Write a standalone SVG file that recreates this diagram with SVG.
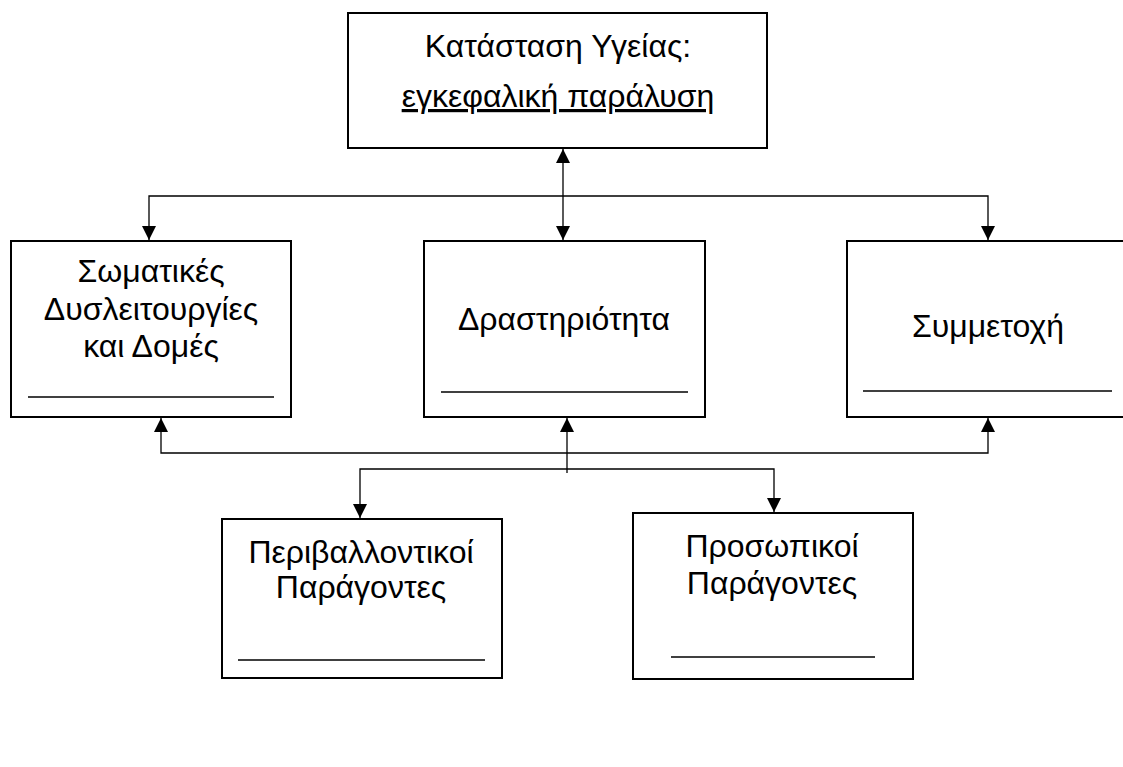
<svg xmlns="http://www.w3.org/2000/svg" width="1123" height="767" viewBox="0 0 1123 767">
<style>
.box{fill:#fff;stroke:#000;stroke-width:2}
.ul{stroke:#000;stroke-width:1.5}
.c{fill:none;stroke:#000;stroke-width:1.3}
text{font-family:"Liberation Sans",Arial,sans-serif;font-size:32px;fill:#000;text-anchor:middle}
</style>
<defs>
<marker id="ah" markerUnits="userSpaceOnUse" markerWidth="14" markerHeight="16" refX="14" refY="7" orient="auto">
<path d="M0,0 L14,7 L0,14 Z" fill="#000"/>
</marker>
<marker id="as" markerUnits="userSpaceOnUse" markerWidth="14" markerHeight="16" refX="0" refY="7" orient="auto">
<path d="M14,0 L0,7 L14,14 Z" fill="#000"/>
</marker>
</defs>
<rect width="1123" height="767" fill="#fff"/>
<g id="connectors">
<line class="c" x1="563" y1="149" x2="563" y2="240" marker-start="url(#as)" marker-end="url(#ah)"/>
<path class="c" d="M149,240 V196 H988 V240" marker-start="url(#as)" marker-end="url(#ah)"/>
<path class="c" d="M161,418 V453 H988 V418" marker-start="url(#as)" marker-end="url(#ah)"/>
<line class="c" x1="567" y1="473" x2="567" y2="418" marker-end="url(#ah)"/>
<path class="c" d="M360,518 V469 H774 V512" marker-start="url(#as)" marker-end="url(#ah)"/>
</g>
<g id="health">
<rect class="box" x="348" y="13" width="419" height="135"/>
<text x="558" y="57">Κατάσταση Υγείας:</text>
<text x="558" y="107" text-decoration="underline">εγκεφαλική παράλυση</text>
</g>
<g id="body">
<rect class="box" x="11" y="241" width="280" height="176"/>
<text x="151" y="282">Σωματικές</text>
<text x="151" y="320">Δυσλειτουργίες</text>
<text x="151" y="357">και Δομές</text>
<line class="ul" x1="28" y1="397" x2="274" y2="397"/>
</g>
<g id="activity">
<rect class="box" x="424" y="241" width="281" height="176"/>
<text x="564" y="330">Δραστηριότητα</text>
<line class="ul" x1="441" y1="392" x2="688" y2="392"/>
</g>
<g id="participation">
<rect class="box" x="847" y="241" width="290" height="176"/>
<text x="988" y="337">Συμμετοχή</text>
<line class="ul" x1="863" y1="391" x2="1112" y2="391"/>
</g>
<g id="environmental">
<rect class="box" x="222" y="519" width="280" height="159"/>
<text x="361" y="563">Περιβαλλοντικοί</text>
<text x="361" y="598">Παράγοντες</text>
<line class="ul" x1="238" y1="660" x2="485" y2="660"/>
</g>
<g id="personal">
<rect class="box" x="633" y="513" width="280" height="166"/>
<text x="772" y="557">Προσωπικοί</text>
<text x="772" y="594">Παράγοντες</text>
<line class="ul" x1="671" y1="657" x2="875" y2="657"/>
</g>
</svg>
